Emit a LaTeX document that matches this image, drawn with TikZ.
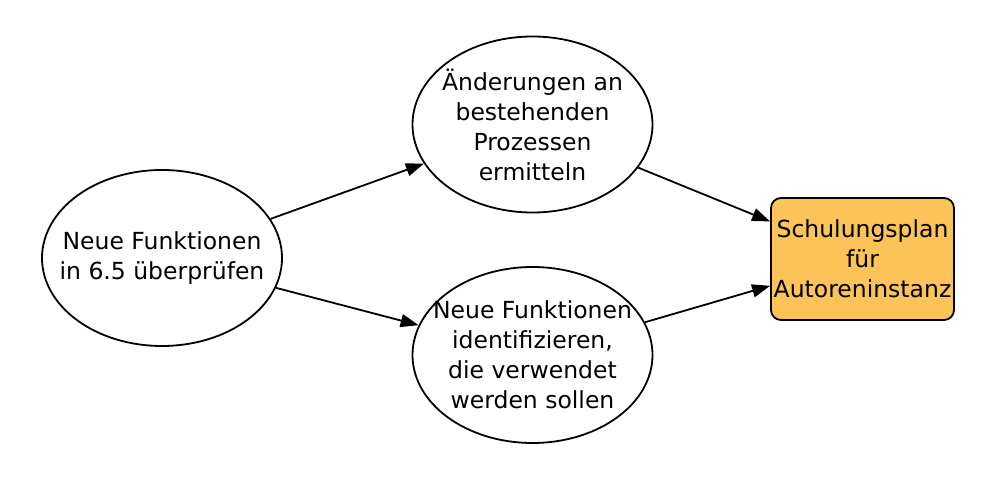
\documentclass[tikz,border=0pt]{standalone}
\usepackage{fontspec}
\setmainfont{DejaVu Sans}
\usetikzlibrary{positioning,shapes.geometric,arrows.meta}
\definecolor{planorange}{RGB}{252,196,88}

\begin{document}
\begin{tikzpicture}[x=1pt,y=1pt,node distance=3cm,on grid,
    line width=1.8pt,
    every node/.style={font=\fontsize{23.5}{30}\selectfont,align=center},
    task/.style={ellipse,draw,minimum width=240pt,minimum height=176pt,inner xsep=-22pt,inner ysep=0pt},
    goal/.style={rectangle,draw,rounded corners=10pt,fill=planorange,minimum width=183pt,minimum height=122pt,inner sep=0pt}]
  \useasboundingbox (0,0) rectangle (995,503);
  \node[task]  (check) at (162,245)			{Neue Funktionen\\in 6.5 überprüfen};
  \node[task]  (change) [above right=133.5pt and 370.5pt of check]	{Änderungen an\\bestehenden\\Prozessen\\ermitteln};
  \node[task]  (ident) [below right=97pt and 370.5pt of check]	{Neue Funktionen\\identifizieren,\\die verwendet\\werden sollen};
  \node[goal]  (plan) [below right=134.5pt and 330pt of change]	{Schulungsplan\\für\\Autoreninstanz};
   \path[-{Triangle[length=18pt,width=13pt]}]
   (check) edge (change)
   	edge (ident)
   (change) edge (plan)
   (ident) edge (plan);
\end{tikzpicture}
\end{document}
